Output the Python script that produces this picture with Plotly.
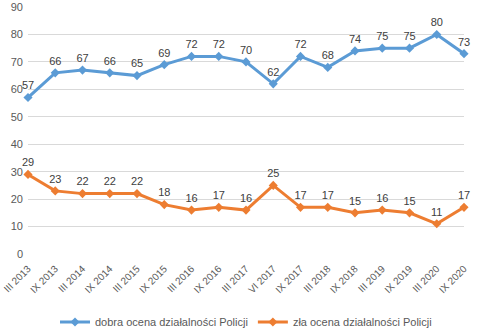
import plotly.graph_objects as go

categories = ["III 2013", "IX 2013", "III 2014", "IX 2014", "III 2015", "IX 2015",
              "III 2016", "IX 2016", "III 2017", "VI 2017", "IX 2017", "III 2018",
              "IX 2018", "III 2019", "IX 2019", "III 2020", "IX 2020"]
good = [57, 66, 67, 66, 65, 69, 72, 72, 70, 62, 72, 68, 74, 75, 75, 80, 73]
bad = [29, 23, 22, 22, 22, 18, 16, 17, 16, 25, 17, 17, 15, 16, 15, 11, 17]
y_ticks = list(range(0, 100, 10))

FONT = "Liberation Sans"
fig = go.Figure()
fig.add_trace(go.Scatter(
    x=categories, y=good, name="dobra ocena działalności Policji",
    mode="lines+markers+text", text=[str(v) for v in good], textposition="top center",
    textfont=dict(size=11, color="#404040", family=FONT),
    line=dict(color="#5B9BD5", width=3), marker=dict(symbol="diamond", size=7, color="#5B9BD5"),
    cliponaxis=False))
fig.add_trace(go.Scatter(
    x=categories, y=bad, name="zła ocena działalności Policji",
    mode="lines+markers+text", text=[str(v) for v in bad], textposition="top center",
    textfont=dict(size=11, color="#404040", family=FONT),
    line=dict(color="#ED7D31", width=3), marker=dict(symbol="diamond", size=7, color="#ED7D31"),
    cliponaxis=False))

fig.update_layout(
    width=490, height=332, margin=dict(l=28, r=26, t=7, b=78, autoexpand=False),
    paper_bgcolor="white", plot_bgcolor="white",
    font=dict(family=FONT, color="#595959", size=11),
    showlegend=True,
    legend=dict(orientation="h", x=0.5, xanchor="center", y=-0.275, yanchor="middle",
                font=dict(size=11, color="#595959"), itemwidth=30, tracegroupgap=0),
)
fig.update_xaxes(type="category", range=[0, len(categories) - 1], tickangle=-45,
                 showgrid=False, showline=False, ticks="", tickfont=dict(size=10),
                 ticklabelstandoff=6, automargin=False)
fig.update_yaxes(range=[0, 90], tickvals=y_ticks, showgrid=True, gridcolor="#D9D9D9",
                 gridwidth=1, zeroline=False, showline=False, ticks="", automargin=False,
                 ticklabelstandoff=4, tickfont=dict(size=11))

fig.write_html("out.html")
